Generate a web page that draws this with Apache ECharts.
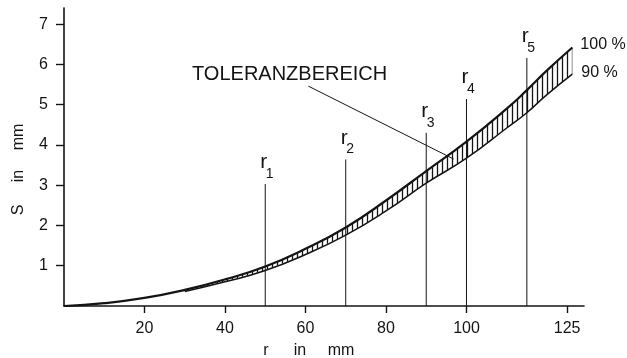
<!DOCTYPE html>
<html><head><meta charset="utf-8">
<script src="https://cdn.jsdelivr.net/npm/echarts@6/dist/echarts.min.js"></script>
<style>html,body{margin:0;padding:0;background:#fff}#c{width:627px;height:358px}</style>
</head><body><div id="c"></div>
<script>
// 100 % curve
const rUpper = [0, 10, 20, 30, 40, 50, 60, 70, 80, 90, 100, 110, 115, 120, 126.3];
const sUpper = [0, 0.07, 0.2, 0.4, 0.66, 0.98, 1.42, 1.95, 2.62, 3.35, 4.08, 4.9, 5.36, 5.85, 6.42];
// 90 % curve (lower edge of tolerance band)
const rLower = [30, 40, 50, 60, 70, 80, 90, 100, 110, 115, 120, 126.3];
const sLower = [0.36, 0.6, 0.88, 1.28, 1.76, 2.36, 3.05, 3.67, 4.42, 4.8, 5.25, 5.76];
// radius marker lines r1..r5
const rLineX = [50, 70, 90, 100, 115];
const rLineTop = [3.03, 3.64, 4.30, 5.14, 6.16];
const rLineSub = ['1', '2', '3', '4', '5'];
// pointer from the label to the band
const pointerFrom = [60.7, 5.46];
const pointerTo = [96.8, 3.65];
// axis ticks
const xTicks = [20, 40, 60, 80, 100, 125];
const yTicks = [1, 2, 3, 4, 5, 6, 7];

const FONT = 'Liberation Sans';
const INK = '#141414';

const upperPairs = rUpper.map((r, i) => [r, sUpper[i]]);
const lowerPairs = rLower.map((r, i) => [r, sLower[i]]);
// band segments: [r0, r1, up0, up1, lo0, lo1]
const bandSegs = [];
for (let i = 0; i < rLower.length - 1; i++) {
  const a = rLower[i], b = rLower[i + 1];
  bandSegs.push([a, b, sUpper[rUpper.indexOf(a)], sUpper[rUpper.indexOf(b)], sLower[i], sLower[i + 1]]);
}

// hatch pattern
const pc = document.createElement('canvas');
pc.width = 5; pc.height = 6;
const ctx = pc.getContext('2d');
ctx.strokeStyle = INK; ctx.lineWidth = 1.3;
ctx.beginPath(); ctx.moveTo(2.5, 0); ctx.lineTo(2.5, 6); ctx.stroke();

const chart = echarts.init(document.getElementById('c'));
chart.setOption({
  animation: false,
  backgroundColor: '#fff',
  grid: { left: 64, right: 43, top: 8, bottom: 52 },
  xAxis: {
    type: 'value', min: 0, max: 129.2,
    axisLine: { lineStyle: { color: INK, width: 1.6 } },
    axisTick: { show: true, length: 7, customValues: xTicks, lineStyle: { color: INK, width: 1.4 } },
    axisLabel: { customValues: xTicks, margin: 15, fontSize: 16, color: INK, fontFamily: FONT },
    splitLine: { show: false }
  },
  yAxis: {
    type: 'value', min: 0, max: 7.4,
    axisLine: { show: true, lineStyle: { color: INK, width: 1.6 } },
    axisTick: { show: true, length: 8, customValues: yTicks, lineStyle: { color: INK, width: 1.4 } },
    axisLabel: { customValues: yTicks, margin: 16, fontSize: 16, color: INK, fontFamily: FONT },
    splitLine: { show: false }
  },
  series: [
    {
      type: 'custom', silent: true, z: 1,
      data: bandSegs,
      renderItem: function (params, api) {
        const a = api.value(0), b = api.value(1);
        const pts = [
          api.coord([a, api.value(2)]), api.coord([b, api.value(3)]),
          api.coord([b, api.value(5)]), api.coord([a, api.value(4)])
        ];
        return { type: 'polygon', shape: { points: pts }, style: { fill: { image: pc, repeat: 'repeat' }, stroke: null } };
      }
    },
    {
      type: 'line', data: upperPairs, smooth: true, symbol: 'none',
      lineStyle: { color: INK, width: 2.2 }, z: 3,
      endLabel: { show: true, formatter: '100 %', distance: 8, offset: [0, -3], fontSize: 16, color: INK, fontFamily: FONT },
      markLine: {
        silent: true, symbol: 'none', label: { show: false },
        lineStyle: { color: INK, width: 1, type: 'solid' },
        data: [[{ coord: pointerFrom }, { coord: pointerTo }]]
      }
    },
    {
      type: 'line', data: lowerPairs, smooth: true, symbol: 'none',
      lineStyle: { color: INK, width: 1.5 }, z: 3,
      endLabel: { show: true, formatter: '90 %', distance: 9, offset: [0, -1], fontSize: 16, color: INK, fontFamily: FONT }
    },
    {
      type: 'custom', clip: false, silent: true, z: 4,
      data: rLineX.map((x, i) => [x, rLineTop[i], i]),
      renderItem: function (params, api) {
        const x = api.value(0), top = api.value(1), idx = api.value(2);
        const p0 = api.coord([x, 0]), p1 = api.coord([x, top]);
        return {
          type: 'group',
          children: [
            { type: 'line', shape: { x1: p0[0], y1: p0[1], x2: p1[0], y2: p1[1] }, style: { stroke: INK, lineWidth: 1 } },
            { type: 'text', x: p1[0] - 5, y: p1[1] - 11, style: { text: 'r', fontSize: 21, fontFamily: FONT, fill: INK, textAlign: 'left', textVerticalAlign: 'bottom' } },
            { type: 'text', x: p1[0] + 0.5, y: p1[1] - 3, style: { text: rLineSub[idx], fontSize: 14, fontFamily: FONT, fill: INK, textAlign: 'left', textVerticalAlign: 'bottom' } }
          ]
        };
      }
    }
  ],
  graphic: [
    { type: 'text', x: 192, y: 74, style: { text: 'TOLERANZBEREICH', fontSize: 20, fontFamily: FONT, fill: INK, textVerticalAlign: 'middle' } },
    { type: 'text', x: 266, y: 351, style: { text: 'r', fontSize: 16, fontFamily: FONT, fill: INK, textAlign: 'center', textVerticalAlign: 'middle' } },
    { type: 'text', x: 300, y: 351, style: { text: 'in', fontSize: 16, fontFamily: FONT, fill: INK, textAlign: 'center', textVerticalAlign: 'middle' } },
    { type: 'text', x: 341, y: 351, style: { text: 'mm', fontSize: 16, fontFamily: FONT, fill: INK, textAlign: 'center', textVerticalAlign: 'middle' } },
    { type: 'text', x: 19, y: 210, rotation: Math.PI / 2, style: { text: 'S', fontSize: 16, fontFamily: FONT, fill: INK, textAlign: 'center', textVerticalAlign: 'middle' } },
    { type: 'text', x: 19, y: 176, rotation: Math.PI / 2, style: { text: 'in', fontSize: 16, fontFamily: FONT, fill: INK, textAlign: 'center', textVerticalAlign: 'middle' } },
    { type: 'text', x: 19, y: 137, rotation: Math.PI / 2, style: { text: 'mm', fontSize: 16, fontFamily: FONT, fill: INK, textAlign: 'center', textVerticalAlign: 'middle' } }
  ]
});
</script>
</body></html>
